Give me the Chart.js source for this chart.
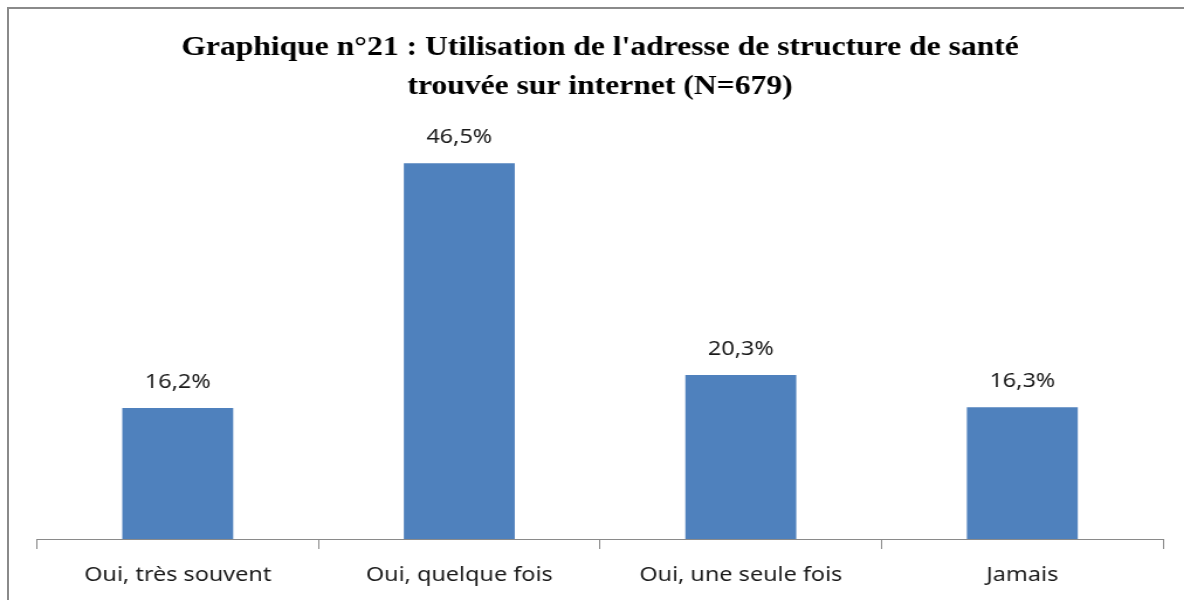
<!DOCTYPE html>
<html><head><meta charset="utf-8">
<script src="https://cdn.jsdelivr.net/npm/chart.js@4/dist/chart.umd.min.js"></script>
<style>
html,body{margin:0;padding:0;background:#fff;}
#wrap{position:relative;width:1184px;height:600px;overflow:hidden;}
#frame{position:absolute;left:7px;top:7px;width:1300px;height:700px;border-top:2px solid #8a8a8a;border-left:2px solid #8a8a8a;box-sizing:border-box;}
canvas{position:absolute;left:0;top:0;transform:scaleX(1.17);transform-origin:0 0;}
</style></head>
<body><div id="wrap"><div id="frame"></div><canvas id="c" width="1012" height="600"></canvas></div>
<script>
const titleLines = ["Graphique n°21 : Utilisation de l'adresse de structure de santé", "trouvée sur internet (N=679)"];
const categories = ["Oui, très souvent", "Oui, quelque fois", "Oui, une seule fois", "Jamais"];
const values = [16.2, 46.5, 20.3, 16.3];
const valueLabels = ["16,2%", "46,5%", "20,3%", "16,3%"];

const labelPlugin = {
  id: 'valueLabels',
  afterDatasetsDraw(chart) {
    const ctx = chart.ctx;
    const meta = chart.getDatasetMeta(0);
    ctx.save();
    ctx.font = '20px "Noto Sans"';
    ctx.fillStyle = '#1a1a1a';
    ctx.textAlign = 'center';
    ctx.textBaseline = 'middle';
    meta.data.forEach((bar, i) => {
      ctx.fillText(valueLabels[i], bar.x, bar.y - 26);
    });
    ctx.restore();
  }
};

new Chart(document.getElementById('c'), {
  type: 'bar',
  data: {
    labels: categories,
    datasets: [{
      data: values,
      backgroundColor: '#4F81BD',
      borderWidth: 0,
      categoryPercentage: 1,
      barPercentage: 0.394
    }]
  },
  options: {
    responsive: false,
    animation: false,
    devicePixelRatio: 1,
    layout: { padding: { left: 31.6, right: 17.9, top: 0, bottom: 0 } },
    plugins: {
      legend: { display: false },
      tooltip: { enabled: false },
      title: {
        display: true,
        text: titleLines,
        color: '#000',
        font: { family: '"Liberation Serif"', size: 27, weight: 'bold', lineHeight: 1.444 },
        padding: { top: 29, bottom: 28 }
      }
    },
    scales: {
      y: { display: false, min: 0, max: 50 },
      x: {
        afterFit(scale) { scale.height = 61; },
        border: { display: true, color: '#8a8a8a', width: 1 },
        grid: { display: true, drawOnChartArea: false, offset: true, tickLength: 10, color: '#8a8a8a' },
        ticks: { color: '#1a1a1a', font: { family: '"Noto Sans"', size: 20 }, padding: 14 }
      }
    }
  },
  plugins: [labelPlugin]
});
</script></body></html>
